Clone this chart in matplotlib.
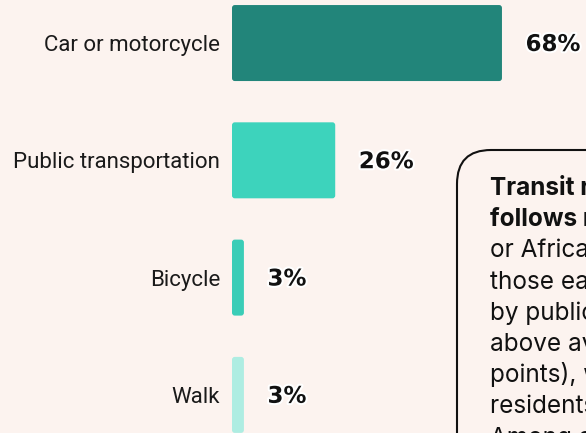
import matplotlib
matplotlib.use("Agg")
import matplotlib.pyplot as plt
import matplotlib.patheffects as pe
from matplotlib.patches import FancyBboxPatch
from matplotlib.transforms import IdentityTransform

# data
modes = ["Car or motorcycle", "Public transportation", "Bicycle", "Walk"]
shares = [68, 26, 3, 3]
bar_colors = ["#22857A", "#3DD3BC", "#3ACDB7", "#AEEDE2"]

note_bold = ["Transit ridership", "follows race: Black"]
note_body = ["or African American residents and",
             "those earning less commute",
             "by public transit at rates well",
             "above average (by 10+ percentage",
             "points), while white and Asian",
             "residents drive more often.",
             "Among all commuters, driving"]

bg = "#FCF3EF"

fig = plt.figure(figsize=(5.86, 4.33), dpi=100, facecolor=bg)
ax = fig.add_axes([232 / 586, 0, 354 / 586, 1])
ax.set_facecolor(bg)

bars = ax.barh(range(len(modes)), shares, height=0.648, color=bar_colors)

# swap plain rectangles for slightly rounded ones
for b in bars:
    b.set_visible(False)
    ax.add_patch(FancyBboxPatch((b.get_x(), b.get_y()), b.get_width(), b.get_height(),
                                boxstyle="round,pad=0,rounding_size=0.7",
                                mutation_aspect=0.035,
                                facecolor=b.get_facecolor(), edgecolor="none"))

ax.set_xlim(0, 354 / 3.97)
ax.set_ylim(3.325, -0.367)

ax.set_yticks(range(len(modes)))
ax.set_yticklabels(modes, family="Roboto", fontsize=16, color="#1a1a1a")
ax.tick_params(axis="y", length=0, pad=8.5)
ax.set_xticks([])
for s in ax.spines.values():
    s.set_visible(False)

for i, v in enumerate(shares):
    ax.annotate(f"{v}%", (v, i), xytext=(17, -1), textcoords="offset points",
                ha="left", va="center", fontsize=16.5, fontweight="bold",
                family="DejaVu Sans", color="#111111",
                path_effects=[pe.withStroke(linewidth=3, foreground="white")])

# callout box running off the page
fig.patches.append(FancyBboxPatch((457, -60), 300, 433 - 150 + 60,
                                  boxstyle="round,pad=0,rounding_size=34",
                                  transform=IdentityTransform(),
                                  facecolor=bg, edgecolor="#111111", linewidth=1.5))

y0 = 433 - 195
for k, line in enumerate(note_bold + note_body):
    fig.text(490 / 586, (y0 - 31.2 * k) / 433, line, family="Inter",
             fontsize=17.5, fontweight="bold" if k < 2 else "normal",
             color="#111111", ha="left", va="baseline")

fig.savefig("out.png", dpi=100, facecolor=bg)
